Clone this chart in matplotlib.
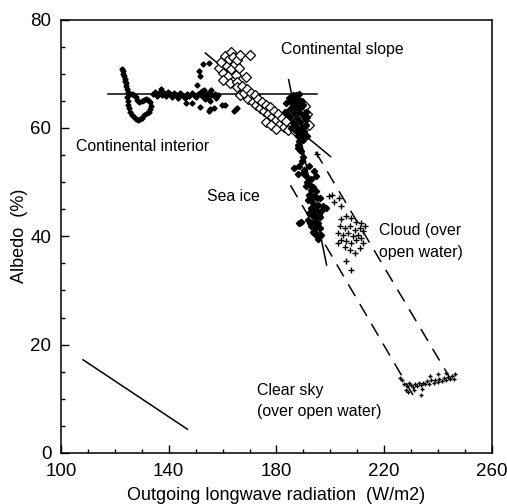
import numpy as np
import matplotlib.pyplot as plt
from matplotlib.ticker import MultipleLocator

plt.rcParams['font.family'] = ['Liberation Sans', 'DejaVu Sans']

# Continental interior (small filled diamonds)
interior_x = [122.8, 123.0, 123.2, 123.4, 123.6, 123.8, 124.0, 124.2, 124.5, 124.8, 125.1,
              124.6, 124.8, 124.9, 125.2, 125.7, 126.3, 127.0, 127.7, 128.5, 129.3, 130.2,
              131.0, 131.8, 132.5, 133.1, 133.3, 133.0, 132.4, 131.6, 130.7, 129.9, 129.1,
              128.4, 127.8, 127.0, 126.2,
              134.0, 135.0, 135.8, 136.5, 137.2, 137.5, 138.3, 139.0, 139.8, 140.5, 141.2,
              142.0, 142.8, 143.5, 144.3, 145.0, 146.0, 146.8, 147.6, 148.5, 149.3, 150.2,
              151.0, 151.8, 152.5, 153.2, 153.8, 154.5, 155.0, 155.6, 156.2, 157.0, 157.5,
              158.3,
              146.5, 148.8, 151.6, 154.9, 155.5, 156.7, 159.8, 161.0, 164.2, 164.8, 165.4,
              151.1, 152.9, 154.8, 151.7, 150.5, 152.5, 153.5, 154.3, 155.2]
interior_y = [70.9, 70.5, 70.0, 69.6, 69.1, 68.6, 68.2, 67.7, 67.2, 66.7, 66.3,
              65.7, 65.0, 64.3, 63.6, 63.0, 62.4, 62.0, 61.6, 61.5, 61.7, 61.9,
              62.3, 62.7, 63.0, 63.5, 64.1, 64.7, 65.1, 65.3, 65.2, 65.0, 64.8,
              65.2, 65.7, 66.1, 66.2,
              66.3, 66.6, 65.9, 66.4, 67.2, 66.0, 66.5, 65.8, 66.7, 66.2, 65.7,
              66.5, 66.0, 65.6, 66.4, 66.0, 65.5, 66.2, 65.8, 66.4, 66.0, 65.7,
              66.3, 66.6, 65.8, 66.9, 66.1, 65.5, 66.5, 67.0, 66.0, 66.3, 65.6,
              66.1,
              64.6, 64.5, 63.9, 63.1, 63.4, 63.7, 64.3, 64.3, 63.1, 63.4, 63.7,
              70.5, 71.7, 72.0, 69.6, 68.0, 66.8, 65.4, 66.2, 65.0]

# Continental slope (open diamonds)
slope_x = [158.5, 159.5, 160.3, 161.0, 161.5, 162.0, 162.5, 163.0, 163.2, 164.0,
           164.5, 164.8, 165.5, 166.0, 166.5, 160.0, 162.8, 165.2, 170.3, 168.5,
           165.5, 166.5, 167.3, 168.0, 169.0, 169.5, 170.5, 171.2, 172.0, 172.5,
           173.3, 174.0, 174.8, 175.5, 176.2, 177.0, 177.6, 178.3, 179.0, 179.7,
           180.5, 181.2, 182.0, 182.8, 183.5, 184.3, 176.0, 178.0, 180.0,
           188.5, 190.5, 191.5, 189.5, 192.0, 187.0]
slope_y = [71.0, 72.2, 70.2, 73.3, 71.5, 69.6, 72.8, 74.0, 70.8, 73.0,
           71.8, 69.8, 72.5, 71.0, 73.5, 68.8, 68.2, 68.4, 73.5, 69.4,
           67.6, 66.0, 67.8, 66.5, 67.2, 65.4, 66.4, 64.8, 66.0, 64.2,
           65.3, 63.7, 64.8, 63.2, 64.3, 62.6, 63.8, 62.0, 63.2, 61.5,
           62.5, 60.8, 61.8, 60.2, 61.2, 59.6, 61.0, 60.5, 59.8,
           64.8, 64.0, 62.5, 61.2, 60.5, 59.5]

# Sea ice (filled diamonds)
seaice_x = [183.5, 184.5, 185.0, 185.5, 186.0, 186.5, 186.8, 187.2, 187.5, 187.8,
            188.2, 188.5, 188.8, 189.0, 189.3, 189.5, 189.8, 190.0, 190.3, 190.5,
            190.8, 191.0, 191.3, 191.5, 186.0, 185.5, 187.0, 188.0, 189.0, 190.0,
            184.0, 183.0, 185.0, 186.3, 188.3, 187.2, 188.0,
            187.3, 187.9, 188.5, 187.9, 189.1, 189.8, 186.6, 188.5, 190.3, 192.2,
            194.1, 194.7, 187.9, 191.0, 192.9, 191.0, 192.9, 194.7, 192.2, 194.1,
            196.0, 191.6, 193.5, 195.3, 197.2, 192.9, 194.7, 196.6, 198.5, 192.2,
            194.1, 196.0, 191.6, 193.5, 195.3, 192.9, 194.7, 194.1, 195.0, 196.6,
            188.5, 189.1,
            188.0, 188.8, 189.5, 190.0, 191.5, 192.0, 193.5, 193.0, 195.0, 193.8,
            195.8, 194.8, 193.0, 192.5, 194.5, 196.0, 193.5, 195.5]
seaice_y = [64.5, 65.5, 63.5, 64.8, 66.0, 62.8, 65.2, 63.9, 61.8, 64.6,
            62.9, 66.2, 61.0, 63.8, 65.0, 60.2, 62.4, 64.2, 59.4, 61.6,
            63.0, 60.6, 58.5, 62.0, 61.0, 60.0, 60.4, 59.8, 58.6, 57.8,
            62.5, 63.0, 62.0, 64.0, 64.0, 66.0, 65.2,
            59.4, 58.5, 57.5, 56.3, 55.7, 54.7, 52.6, 52.9, 52.3, 52.9,
            52.0, 51.1, 51.4, 51.1, 50.5, 49.2, 48.6, 48.3, 47.7, 47.4,
            47.1, 46.7, 46.1, 45.8, 45.5, 45.2, 44.9, 44.6, 45.2, 44.3,
            43.9, 43.6, 43.0, 42.7, 42.4, 41.8, 41.5, 40.6, 40.0, 40.3,
            42.4, 42.7,
            56.8, 56.0, 53.8, 51.6, 50.0, 49.6, 49.0, 47.0, 47.0, 45.0,
            44.0, 43.2, 44.0, 42.4, 42.0, 41.5, 40.8, 39.5]

# Cloud over open water (plus signs)
cloud_x = [204.1, 205.9, 207.8, 209.7, 211.5, 203.5, 205.3, 207.2, 209.0, 210.9,
           212.1, 202.8, 204.7, 206.5, 208.4, 210.3, 211.5, 204.1, 205.9, 207.8,
           209.7, 212.1, 205.3, 207.2, 210.9, 202.8, 209.0, 212.8,
           195.1, 200.7, 203.2, 205.7, 207.5, 199.5, 201.5, 204.0]
cloud_y = [43.1, 43.7, 43.4, 42.7, 42.4, 41.8, 41.5, 41.8, 41.2, 41.5,
           40.9, 40.6, 40.3, 40.6, 40.0, 40.3, 39.7, 39.4, 39.1, 38.8,
           39.4, 38.8, 38.1, 37.5, 37.8, 38.8, 36.9, 41.8,
           55.1, 47.7, 47.1, 35.4, 33.8, 47.5, 46.3, 45.5]

# Clear sky over open water (plus signs)
clear_x = [226.5, 227.5, 228.5, 229.3, 230.0, 230.8, 231.5, 232.3, 233.0, 233.8,
           234.5, 235.3, 236.0, 236.8, 237.5, 238.3, 239.0, 239.8, 240.5, 241.3,
           242.0, 242.8, 243.5, 244.3, 245.0, 245.8, 246.3, 228.0, 229.0, 233.5,
           231.0, 240.0, 243.0, 226.0, 237.0, 234.0]
clear_y = [13.5, 12.8, 12.3, 12.9, 12.5, 12.2, 12.8, 12.4, 12.9, 12.5,
           13.0, 12.7, 13.2, 12.8, 13.4, 12.9, 13.5, 13.1, 13.7, 13.2,
           13.8, 13.4, 14.0, 13.6, 14.2, 13.7, 14.6, 11.6, 11.2, 10.7,
           11.7, 14.5, 14.8, 13.9, 14.2, 11.8]

# Fitted lines (end points)
horiz_line = ([117.5, 195.0], [66.3, 66.3])
slope_line = ([153.6, 200.1], [73.8, 54.7])
seaice_line = ([184.5, 198.6], [68.9, 34.7])
dash_left = ([185.2, 232.2], [49.4, 9.4])
dash_right = ([194.5, 246.6], [55.6, 12.0])
ref_line = ([108.2, 146.9], [17.2, 4.4])

x_ticks = [100, 140, 180, 220, 260]
y_ticks = [0, 20, 40, 60, 80]

fig = plt.figure(figsize=(5.07, 5.04), dpi=100)
ax = fig.add_axes([0.1203, 0.1012, 0.8501, 0.8601])

for xs, ys in [horiz_line, slope_line, seaice_line, ref_line]:
    ax.plot(xs, ys, color='black', lw=1.1)
for xs, ys in [dash_left, dash_right]:
    ax.plot(xs, ys, color='black', lw=1.1, dashes=(9, 6))

ax.plot(interior_x, interior_y, 'D', color='black', ms=2.6, ls='none')
ax.plot(slope_x, slope_y, 'D', mfc='white', mec='black', mew=0.9, ms=4.6, ls='none')
ax.plot(seaice_x, seaice_y, 'D', color='black', ms=3.2, ls='none')
ax.plot(cloud_x, cloud_y, '+', color='black', ms=4.5, mew=1.0, ls='none')
ax.plot(clear_x, clear_y, '+', color='black', ms=3.5, mew=1.0, ls='none')

ax.set_xlim(100, 260)
ax.set_ylim(0, 80)
ax.set_xticks(x_ticks)
ax.set_yticks(y_ticks)
ax.xaxis.set_minor_locator(MultipleLocator(10))
ax.yaxis.set_minor_locator(MultipleLocator(5))
ax.tick_params(which='both', direction='in', top=False, right=False,
               labelsize=13.5, width=1.0)
ax.tick_params(which='major', length=6, pad=7)
ax.tick_params(which='minor', length=3)
for s in ax.spines.values():
    s.set_linewidth(1.1)

ax.set_xlabel('Outgoing longwave radiation  (W/m2)', fontsize=13, labelpad=5)
ax.set_ylabel('Albedo  (%)', fontsize=13, labelpad=1.5)

ax.text(181.5, 74.5, 'Continental slope', fontsize=11.4, va='center')
ax.text(105.6, 56.6, 'Continental interior', fontsize=11.4, va='center')
ax.text(154.3, 47.3, 'Sea ice', fontsize=11.4, va='center')
ax.text(218.0, 39.0, 'Cloud (over\nopen water)', fontsize=11.4, va='center',
        linespacing=1.55)
ax.text(172.8, 9.6, 'Clear sky\n(over open water)', fontsize=11.4, va='center',
        linespacing=1.55)

fig.savefig('out.png', dpi=100)
